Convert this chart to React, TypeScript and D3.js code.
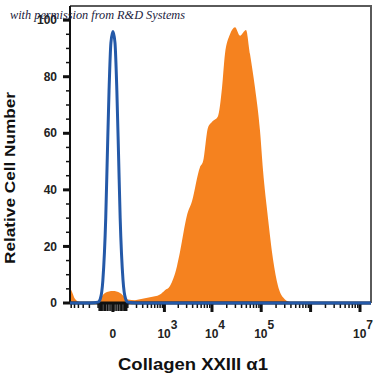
import React, { useEffect, useRef } from 'react';
import * as d3 from 'd3';

// orange histogram (stained sample): fluorescence value vs relative count
const stainedX = [-640, -576, -488, -366, -269, -131, -83, -45, 0, 39, 75, 101, 179, 252, 461, 794, 1029, 1325, 1876, 2173, 3050, 3877, 5670, 6540, 8280, 10000, 13260, 16000, 18400, 23300, 29400, 37200, 49200, 59300, 75000, 94500, 108700, 137300, 173400, 219000, 276000, 383000, 611000, 16700000];
const stainedY = [5.5, 4, 1.5, 0.3, 0.1, 0.3, 1.5, 3.5, 4.2, 3.5, 2, 1.2, 1.0, 1.3, 2.0, 3.0, 4.5, 6, 13, 18, 31, 36, 48, 50, 62, 64, 66, 76, 88, 95, 97.5, 94.5, 96.5, 88, 76, 61, 47, 30, 15.5, 6, 2, 0.3, 0, 0];

// blue histogram (isotype control)
const controlX = [-640, -200, -100, -80, -60, -40, -30, -20, -10, 0, 10, 20, 30, 40, 60, 80, 100, 200, 16700000];
const controlY = [0, 0, 0.3, 1.5, 8, 30, 52, 75, 92, 96, 92, 75, 52, 30, 8, 1.5, 0.3, 0, 0];

const yMajor = [0, 20, 40, 60, 80, 100];
const xLabelValues = [0, 1e3, 1e4, 1e5, 1e7];
const xLabelExps = ['', '3', '4', '5', '7'];
const xMajor = [0, 1e3, 1e4, 1e5, 1e6, 1e7];

const App = () => {
    const svgRef = useRef<SVGSVGElement>(null);

    useEffect(() => {
        const svg = d3.select(svgRef.current);
        svg.selectAll('*').remove();

        const left = 70, right = 371, top = 6, bottom = 303;

        const x = d3.scaleSymlog().constant(100).domain([-640, 16700000]).range([left, right]);
        const y = d3.scaleLinear().domain([0, 105]).range([bottom, top]);

        const font = 'Liberation Sans, Arial, sans-serif';

        // minor x ticks: 1..9 per decade plus the negative side
        const xMinor: number[] = [];
        for (let m = 1; m <= 6; m++) xMinor.push(-m * 100);
        for (let m = 1; m <= 9; m++) xMinor.push(-m * 10);
        for (let p = 1; p <= 6; p++) {
            for (let m = 1; m <= 9; m++) xMinor.push(m * Math.pow(10, p));
        }

        const yMinor = d3.range(0, 101, 5).filter(v => v % 20 !== 0);

        // orange filled histogram
        const area = d3.area<number>()
            .x((d, i) => x(stainedX[i]))
            .y0(y(0))
            .y1(d => y(d))
            .curve(d3.curveMonotoneX);

        svg.append('path')
            .attr('d', area(stainedY))
            .attr('fill', '#f5821f');

        // frame
        svg.append('path')
            .attr('d', `M${left},${top}H${right}V${bottom}`)
            .attr('fill', 'none')
            .attr('stroke', '#5a5a5a')
            .attr('stroke-width', 2);

        // y axis
        svg.append('line')
            .attr('x1', left).attr('x2', left)
            .attr('y1', top).attr('y2', bottom + 1)
            .attr('stroke', '#111').attr('stroke-width', 2);

        svg.selectAll('.ymin')
            .data(yMinor).enter().append('line')
            .attr('x1', left - 4).attr('x2', left)
            .attr('y1', d => y(d)).attr('y2', d => y(d))
            .attr('stroke', '#111').attr('stroke-width', 1.5);

        svg.selectAll('.ymaj')
            .data(yMajor).enter().append('line')
            .attr('x1', left - 7).attr('x2', left)
            .attr('y1', d => y(d)).attr('y2', d => y(d))
            .attr('stroke', '#111').attr('stroke-width', 3);

        svg.selectAll('.ylab')
            .data(yMajor).enter().append('text')
            .attr('x', 57)
            .attr('y', d => y(d))
            .attr('dy', '0.35em')
            .attr('text-anchor', 'end')
            .attr('font-family', font)
            .attr('font-weight', 'bold')
            .attr('font-size', 12)
            .attr('fill', '#222')
            .text(d => d);

        // x axis
        svg.append('line')
            .attr('x1', left).attr('x2', right)
            .attr('y1', bottom).attr('y2', bottom)
            .attr('stroke', '#111').attr('stroke-width', 3);

        svg.selectAll('.xmin')
            .data(xMinor).enter().append('line')
            .attr('x1', d => x(d)).attr('x2', d => x(d))
            .attr('y1', bottom).attr('y2', d => (Math.abs(d) < 100 ? bottom + 8 : bottom + 5))
            .attr('stroke', '#111').attr('stroke-width', 1.5);

        svg.selectAll('.xmaj')
            .data(xMajor).enter().append('line')
            .attr('x1', d => x(d)).attr('x2', d => x(d))
            .attr('y1', bottom).attr('y2', bottom + 9)
            .attr('stroke', '#111').attr('stroke-width', 3);

        const xl = svg.selectAll('.xlab')
            .data(xLabelValues).enter().append('text')
            .attr('x', (d, i) => x(d) + (i === 0 ? 0 : 3))
            .attr('y', 338)
            .attr('text-anchor', 'middle')
            .attr('font-family', font)
            .attr('font-weight', 'bold')
            .attr('font-size', 12)
            .attr('fill', '#222');
        xl.append('tspan').text((d, i) => (i === 0 ? '0' : '10'));
        xl.append('tspan')
            .attr('dy', -9)
            .attr('font-size', 12)
            .text((d, i) => xLabelExps[i]);

        // blue control histogram
        const line = d3.line<number>()
            .x((d, i) => x(controlX[i]))
            .y(d => y(d))
            .curve(d3.curveMonotoneX);

        svg.append('path')
            .attr('d', line(controlY))
            .attr('fill', 'none')
            .attr('stroke', '#2459a8')
            .attr('stroke-width', 3)
            .attr('stroke-linejoin', 'round');

        // axis titles
        svg.append('text')
            .attr('x', 193)
            .attr('y', 370)
            .attr('text-anchor', 'middle')
            .attr('font-family', font)
            .attr('font-weight', 'bold')
            .attr('font-size', 17)
            .attr('textLength', 150)
            .attr('lengthAdjust', 'spacingAndGlyphs')
            .attr('fill', '#111')
            .text('Collagen XXIII α1');

        svg.append('text')
            .attr('transform', 'translate(15,178) rotate(-90)')
            .attr('text-anchor', 'middle')
            .attr('font-family', font)
            .attr('font-weight', 'bold')
            .attr('font-size', 15)
            .attr('textLength', 172)
            .attr('lengthAdjust', 'spacingAndGlyphs')
            .attr('fill', '#111')
            .text('Relative Cell Number');

        // watermark
        svg.append('text')
            .attr('x', 10)
            .attr('y', 19)
            .attr('font-family', 'Liberation Serif, serif')
            .attr('font-style', 'italic')
            .attr('font-size', 12)
            .attr('textLength', 175)
            .attr('lengthAdjust', 'spacingAndGlyphs')
            .attr('fill', '#1c2340')
            .text('with permission from R&D Systems');
    }, []);

    return (
        <svg ref={svgRef} width={375} height={375}
            style={{ position: 'absolute', left: 0, top: 0, background: '#fff' }}></svg>
    );
};

export default App;
